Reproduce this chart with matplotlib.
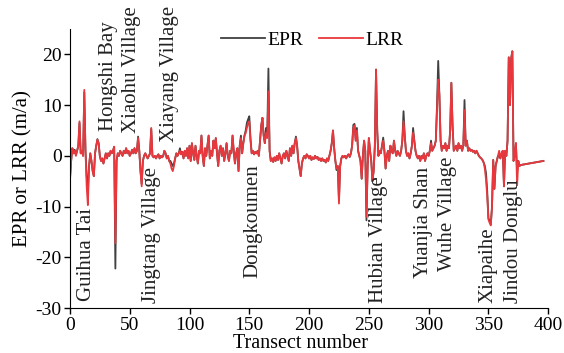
import numpy as np
import matplotlib
matplotlib.use("Agg")
from matplotlib import pyplot as plt

plt.rcParams['font.family'] = ['Liberation Serif', 'DejaVu Serif']
plt.rcParams['axes.unicode_minus'] = False

# transect numbers (0..377, then last one at 396)
transect = list(range(0, 378)) + [396]

# LRR values, ten per row
lrr = [
    -5, -1, 1.5, 0.5, 1.0, 0, 1, 2, 6.8, 0.5,
    1, 0, 13, 1, -6, -9.7, -2, 0.5, -1, -3,
    -4, 0.5, 2, 3.2, 2.5, 0, -1, -0.5, -1.5, -0.5,
    0.5, -0.5, 0.5, 0, 1, 0.5, 1, 1.8, -17.2, -1,
    0.5, 0, 1, 0.5, 0, 1, 0.5, 1.5, 0.5, 1,
    0, 0.5, 1.2, 0.5, 1.5, 0.5, 1, 3.5, 1, -3,
    -6, -1, 0, 0.5, 0, -0.5, 0, 0.5, 5.5, 0,
    -0.3, 0, -0.5, 0, 0.3, -0.5, 0, -0.3, 0, 1,
    0.5, -0.5, 0, -1, -1.5, -2.5, -3, -2, -0.5, 0.5,
    0, 0.5, 1, 0.3, 0.8, -0.5, 1, 0, 1.5, -0.5,
    2, -1, 2.5, 0.5, -0.8, 2, 0, -1.5, 1, 0.5,
    4, 0, -2, 1.5, 0, 2, 4, -0.5, 1, 0,
    3, 1.5, 3.5, 0.5, -2, 1, 2, 0, 1.5, -1,
    0.5, 2.5, 0, -1, 1, 0.5, 4, 1, -1.5, 0.5,
    1.5, -3, 2, 3.5, 0.5, 2.5, 4, 4.5, 5.5, 6.5,
    6.8, 3, 0.5, 1, 0.3, 0.8, 0.5, 1, 0, 3,
    6, 7.5, 4, 2.5, 4.5, 3.5, 12.7, 1, -1, -0.5,
    -1.2, -0.3, -1, 0, -0.8, 0.5, -0.5, -1.5, 0, 0.5,
    -0.5, 1, 0, -1, 1.5, 0, 2, 0.5, 2.5, 3.5,
    2, -1, -2.5, -4, -1.5, -0.5, 0, -0.5, 0.3, 0,
    -0.5, 0, -0.8, -0.3, -0.6, 0, -0.5, -0.2, -0.8, -0.5,
    -1, -0.5, -1, -0.8, -1.3, -0.5, -1, 0, 1, 2.5,
    5, 1.5, -1, -2.5, -2, -9.4, -2, -0.5, 0, -0.3,
    0, -0.5, 0, 0.3, -0.2, 0.5, 2, 5.5, 6, 3,
    5, 1, 0, -1, -4.5, 0, 3, 1, -12, -2,
    3.5, 1, -1, -5, -3, 2, 17, 5, 0, 1,
    0.5, 2, 3, 1, -2.5, 0, 1, -1, 2, 1,
    0.5, 3, 1, 0, 1, 0.5, 0, 1, 3, 6.8,
    4, 1, 0, 0.5, -0.5, 0.5, 2, 4.6, 3, 1,
    0, -0.5, 0, -1, 0, -0.5, 0.5, -1, 0, 0.5,
    0, 1, 2.5, 1, 1.5, 2, 3, 9, 15, 12,
    3, 1, 2, 1.5, 2.5, 1, 2, 1.5, 5, 14.4,
    6, 1, 1.5, 2, 1, 2.5, 1.5, 2, 1, 2,
    9, 2, 3, 1, 1.5, 1, 1.2, 0.8, 1, 0.5,
    1, 0.5, 0, -0.3, -0.5, -0.8, -1.3, -2.5, -4.7, -8,
    -12.5, -13.2, -13.7, -10, -0.8, -6.5, -2, -1, 0, 1,
    -0.5, 0.5, 1, -6, 1, 0, 3, 19.4, 10, 19.2,
    20.6, -1, 0, 2.5, -5.8, -1, -2, -1.8,
    -1,
]

# EPR values, ten per row
epr = [
    -4.5, -1, 1.5, 0.5, 1.2, 0.2, 1, 2, 6.5, 0.5,
    1, 0, 12.5, 1, -4, -7, -2, 0.5, -1, -3,
    -4, 0.5, 2, 3.3, 2.5, 0, -1, -0.5, -1.5, -0.5,
    0.5, -0.5, 0.5, 0, 1, 0.5, 1, 1.8, -22.2, -1,
    0.5, 0, 1, 0.5, 0, 1, 0.5, 1.5, 0.5, 1,
    0, 0.5, 1.2, 0.5, 1.5, 0.5, 1, 3.8, 1, -3,
    -5.5, -1, 0, 0.5, 0, -0.5, 0, 0.5, 5.3, 0,
    -0.3, 0, -0.5, 0, 0.3, -0.5, 0, -0.3, 0, 1,
    0.5, -0.5, 0, -1, -1, -1.5, -2, -1.5, -0.5, 0.5,
    0, 0.5, 1.5, 0.3, 0.8, -0.5, 1, 0, 1.5, -0.5,
    2, -1, 2.5, 0.5, -0.8, 2, 0, -1.5, 1, 0.5,
    4, 0, -2, 1.5, 0, 2, 4, -0.5, 1, 0,
    3, 1.5, 3.5, 0.5, -2, 1, 2, 0, 1.5, -1,
    0.5, 2.5, 0, -1, 1, 0.5, 4, 1, -1.5, 0.5,
    1.5, -3, 2, 4, 0.5, 2.5, 4, 5, 6.5, 7.2,
    7.8, 3.5, 0.5, 1, 0.3, 0.8, 0.5, 1, 0, 3,
    6, 7.5, 4, 2.5, 5.5, 4, 17.2, 1, -1, -0.5,
    -1.2, -0.3, -1, 0, -0.8, 0.5, -0.5, -1.5, 0, 0.5,
    -0.5, 1, 0, -1, 1.5, 0, 2, 0.5, 2.5, 3.8,
    2, -1, -2.5, -4, -1.5, -0.5, 0, -0.5, 0.3, 0,
    -0.5, 0, -0.8, -0.3, -0.6, 0, -0.5, -0.2, -0.8, -0.5,
    -1, -0.5, -1, -0.8, -1.3, -0.5, -1, 0, 1, 2.5,
    5, 1.5, -1, -2.8, -2, -8.8, -2, -0.5, 0, -0.3,
    0, -0.5, 0, 0.3, -0.2, 0.5, 2, 6.1, 6.3, 3,
    5.5, 1, 0, -1, -4.5, 0, 3, 1, -12.7, -2,
    3.5, 1, -1, -5, -3, 2, 17, 5, 0, 1,
    0.5, 2, 3.6, 1, -2.5, 0, 1, -1, 2, 1,
    0.5, 3, 1, 0, 1, 0.5, 0, 1, 3, 8.8,
    4, 1, 0, 0.5, -0.5, 0.5, 2, 5.5, 3, 1,
    0, -0.5, 0, -1, 0, -0.5, 0.5, -1, 0, 0.5,
    0, 1, 3, 1, 1.5, 2, 3, 10, 18.7, 12,
    3, 1, 2, 1.5, 2.5, 1, 2, 1.5, 5, 14.4,
    6, 1, 1.5, 2, 1, 2.5, 1.5, 2, 1, 2,
    11, 2, 3, 1, 1.5, 1, 1.2, 0.8, 1, 0.5,
    1, 0.5, 0, -0.3, -0.5, -0.8, -1.3, -2, -3.4, -7,
    -12.3, -12.8, -13.3, -10, -0.8, -6.5, -2, -1, 0, 0,
    -0.5, 0.5, 1, -6, 1, 0, 3, 19.4, 10, 19.2,
    20.6, -1, 0, 2.5, -3, -1, -2, -1.8,
    -1,
]

# place names: transect, y of text bottom
places = ['Guihua Tai', 'Hongshi Bay', 'Xiaohu Village', 'Jingtang Village',
          'Xiayang Village', 'Dongkoumen', 'Hubian Village', 'Yuanjia Shan',
          'Wuhe Village', 'Xiapaihe', 'Jindou Donglu']
place_x = [13.5, 32, 51.5, 68.5, 83, 153, 258, 295.5, 316, 350, 371]
place_y = [-28.5, 4.8, 4.5, -29, 2.8, -24, -29, -24, -22.6, -29, -29]

fig = plt.figure(figsize=(5.64, 3.53), dpi=100)
ax = fig.add_axes([0.124, 0.127, 0.848, 0.791])

ax.plot(transect, epr, color='#404040', lw=1.3, label='EPR')
ax.plot(transect, lrr, color='#e8383d', lw=1.3, label='LRR')

for name, x, y in zip(places, place_x, place_y):
    ax.text(x, y, name, rotation=90, ha='center', va='bottom', fontsize=15,
            color='#222222')

ax.set_xlim(0, 400)
ax.set_ylim(-30, 25)
ax.set_xticks([0, 50, 100, 150, 200, 250, 300, 350, 400])
ax.set_yticks([-30, -20, -10, 0, 10, 20])
ax.spines['top'].set_visible(False)
ax.spines['right'].set_visible(False)
ax.tick_params(direction='out', length=4, width=1, pad=2, labelsize=14)
ax.set_ylabel('EPR or LRR (m/a)', fontsize=15, labelpad=2)
# x label sits right at the bottom edge, as in the original
fig.text(0.532, 0.013, 'Transect number', ha='center', va='baseline', fontsize=14.5)

ax.legend(loc='center', bbox_to_anchor=(0.506, 0.96), ncol=2, frameon=False,
          fontsize=14, handlelength=2.3, handletextpad=0.1, columnspacing=0.8)

plt.savefig('out.png', dpi=100)
